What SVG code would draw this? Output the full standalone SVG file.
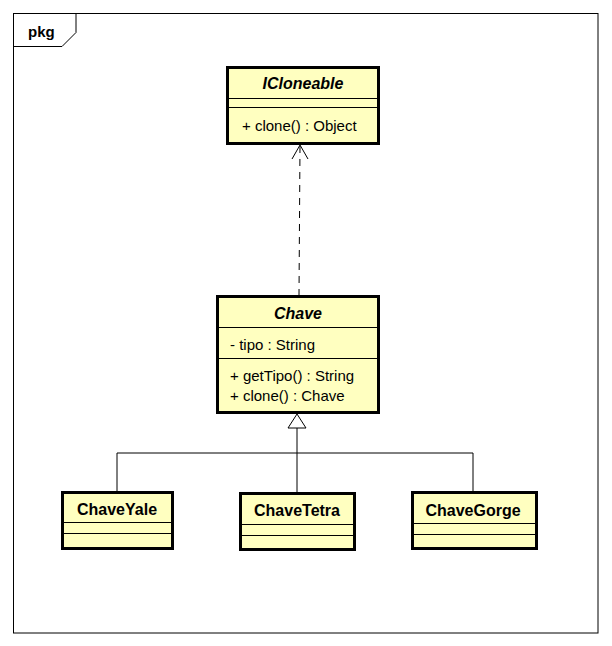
<svg xmlns="http://www.w3.org/2000/svg" width="612" height="646" viewBox="0 0 612 646">
<style>
.box{fill:#FFFFC0;stroke:#000;stroke-width:3}
.sep{stroke:#000;stroke-width:1}
.t{font-family:"Liberation Sans",Arial,sans-serif;font-size:15px;fill:#000}
.b{font-weight:bold}
.n{font-size:16px}
.i{font-style:italic}
.ln{fill:none;stroke:#000;stroke-width:1}
</style>
<rect width="612" height="646" fill="#fff"/>
<g id="frame">
<rect x="13.5" y="13.5" width="584.5" height="619.5" fill="none" stroke="#000" stroke-width="1"/>
<path d="M13.5 46.5 H62 L76 32.5 V13.5" fill="none" stroke="#000" stroke-width="1"/>
<text class="t b" x="28" y="37">pkg</text>
</g>
<g id="connectors">
<path class="ln" d="M300 146 L299 295" stroke-dasharray="7,6" stroke-width="1.3"/>
<path class="ln" d="M292 159 L300 145 L308 159"/>
<path class="ln" d="M297 428 V492 M117 492 V453 H473 V492"/>
<path d="M297 414 L288 428 H306 Z" fill="#fff" stroke="#000" stroke-width="1"/>
</g>
<g id="ICloneable">
<rect class="box" x="227.5" y="67.5" width="151" height="76"/>
<line class="sep" x1="228" y1="98.5" x2="378" y2="98.5"/>
<line class="sep" x1="228" y1="107.5" x2="378" y2="107.5"/>
<text class="t b i n" x="303" y="89" text-anchor="middle">ICloneable</text>
<text class="t" x="242" y="131">+ clone() : Object</text>
</g>
<g id="Chave">
<rect class="box" x="217.5" y="296.5" width="161" height="116"/>
<line class="sep" x1="218" y1="327.5" x2="378" y2="327.5"/>
<line class="sep" x1="218" y1="358.5" x2="378" y2="358.5"/>
<text class="t b i n" x="298" y="319" text-anchor="middle">Chave</text>
<text class="t" x="230" y="350">- tipo : String</text>
<text class="t" x="230" y="381">+ getTipo() : String</text>
<text class="t" x="230" y="401">+ clone() : Chave</text>
</g>
<g id="ChaveYale">
<rect class="box" x="62.5" y="492.5" width="110" height="56"/>
<line class="sep" x1="63" y1="522.5" x2="172" y2="522.5"/>
<line class="sep" x1="63" y1="533.5" x2="172" y2="533.5"/>
<text class="t b n" x="117" y="515" text-anchor="middle">ChaveYale</text>
</g>
<g id="ChaveTetra">
<rect class="box" x="240.5" y="493.5" width="114" height="56"/>
<line class="sep" x1="241" y1="524.5" x2="354" y2="524.5"/>
<line class="sep" x1="241" y1="535.5" x2="354" y2="535.5"/>
<text class="t b n" x="297" y="516" text-anchor="middle">ChaveTetra</text>
</g>
<g id="ChaveGorge">
<rect class="box" x="412.5" y="492.5" width="124" height="56"/>
<line class="sep" x1="413" y1="523.5" x2="536" y2="523.5"/>
<line class="sep" x1="413" y1="534.5" x2="536" y2="534.5"/>
<text class="t b n" x="473" y="516" text-anchor="middle">ChaveGorge</text>
</g>
</svg>
